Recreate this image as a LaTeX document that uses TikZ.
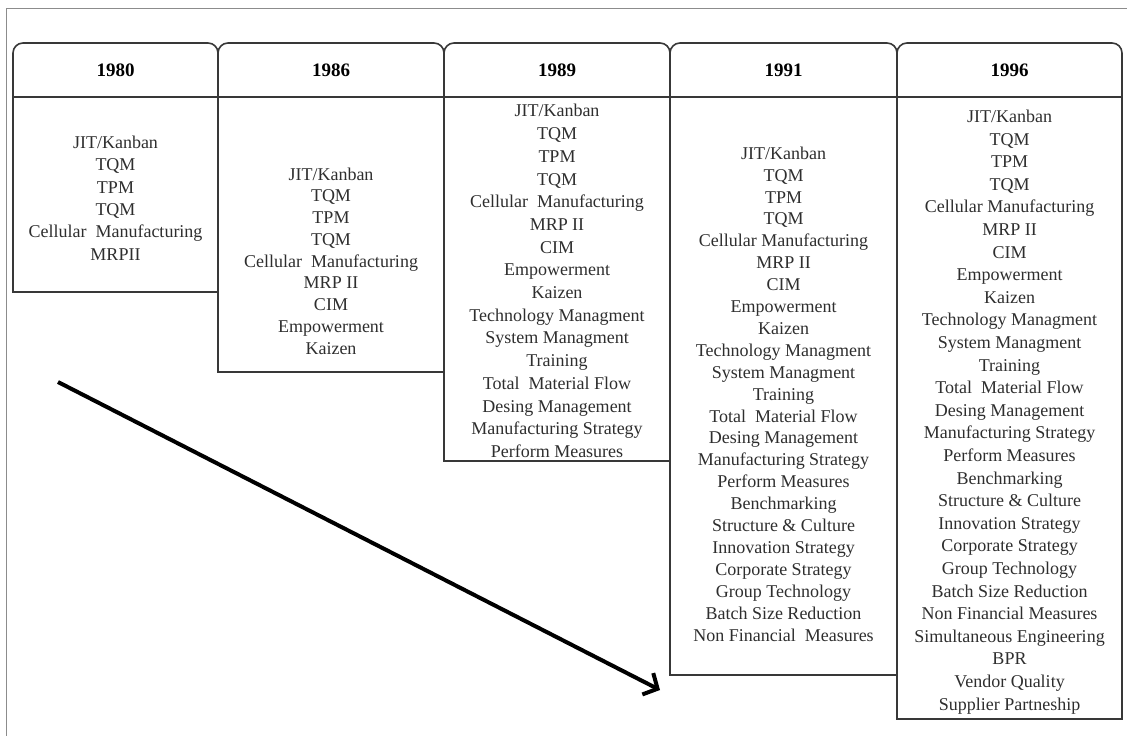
\documentclass[tikz,border=0pt]{standalone}
\usepackage{fontspec}
\setmainfont{Liberation Serif}
\usetikzlibrary{arrows.meta}
\definecolor{linec}{HTML}{383838}
\definecolor{textc}{HTML}{2E2E2E}
\definecolor{framec}{HTML}{8C8C8C}
\tikzset{
  bodybox/.style={draw=linec, line width=1.6pt, anchor=north west, inner sep=0pt, outer sep=0pt},
  hdrshape/.style={draw=linec, line width=1.6pt, rounded corners=10pt},
  hdr/.style={font=\bfseries\fontsize{19}{22}\selectfont, text=black, inner sep=0pt},
  items/.style={align=center, text=textc, inner sep=0pt},
  arrowline/.style={line width=4pt, -{Straight Barb[length=11pt,width=24pt,line width=4pt]}},
}
\begin{document}
\begin{tikzpicture}[x=1pt,y=-1pt]
\useasboundingbox (0,0) rectangle (1127,736);
% outer frame
\draw[framec, line width=1.2pt] (6.5,736) -- (6.5,8.5) -- (1127,8.5);

% header shapes
\foreach \a/\b in {13/218,218/444,444/670,670/897,897/1122}
  \draw[hdrshape] (\a,97) -- (\a,43) -- (\b,43) -- (\b,97);

% body boxes
\node[bodybox, minimum width=205pt, minimum height=195pt] (b1) at (13,97) {};
\node[bodybox, minimum width=226pt, minimum height=275pt] (b2) at (218,97) {};
\node[bodybox, minimum width=226pt, minimum height=364pt] (b3) at (444,97) {};
\node[bodybox, minimum width=227pt, minimum height=578pt] (b4) at (670,97) {};
\node[bodybox, minimum width=225pt, minimum height=622pt] (b5) at (897,97) {};

% header texts
\node[hdr] (h1) at (115.5,70) {1980};
\node[hdr] (h2) at (331,70) {1986};
\node[hdr] (h3) at (557,70) {1989};
\node[hdr] (h4) at (783.5,70) {1991};
\node[hdr] (h5) at (1009.5,70) {1996};

% item lists
\node[items, font=\fontsize{18}{22.4}\selectfont] (t1) at (115.5,198) {JIT/Kanban\\TQM\\TPM\\TQM\\Cellular~ Manufacturing\\MRPII};
\node[items, font=\fontsize{18}{21.75}\selectfont] (t2) at (331,261) {JIT/Kanban\\TQM\\TPM\\TQM\\Cellular~ Manufacturing\\MRP II\\CIM\\Empowerment\\Kaizen};
\node[items, font=\fontsize{18}{22.7}\selectfont] (t3) at (557,281) {JIT/Kanban\\TQM\\TPM\\TQM\\Cellular~ Manufacturing\\MRP II\\CIM\\Empowerment\\Kaizen\\Technology Managment\\System Managment\\Training\\Total~ Material Flow\\Desing Management\\Manufacturing Strategy\\Perform Measures};
\node[items, font=\fontsize{18}{21.9}\selectfont] (t4) at (783.5,394) {JIT/Kanban\\TQM\\TPM\\TQM\\Cellular Manufacturing\\MRP II\\CIM\\Empowerment\\Kaizen\\Technology Managment\\System Managment\\Training\\Total~ Material Flow\\Desing Management\\Manufacturing Strategy\\Perform Measures\\Benchmarking\\Structure \& Culture\\Innovation Strategy\\Corporate Strategy\\Group Technology\\Batch Size Reduction\\Non Financial~ Measures};
\node[items, font=\fontsize{18}{22.6}\selectfont] (t5) at (1009.5,412) {JIT/Kanban\\TQM\\TPM\\TQM\\Cellular Manufacturing\\MRP II\\CIM\\Empowerment\\Kaizen\\Technology Managment\\System Managment\\Training\\Total~ Material Flow\\Desing Management\\Manufacturing Strategy\\Perform Measures\\Benchmarking\\Structure \& Culture\\Innovation Strategy\\Corporate Strategy\\Group Technology\\Batch Size Reduction\\Non Financial Measures\\Simultaneous Engineering\\BPR\\Vendor Quality\\Supplier Partneship};

% arrow
\coordinate (as) at (58,382);
\coordinate (ae) at (660,690);
\draw[arrowline] (as) -- (ae);
\end{tikzpicture}
\end{document}
